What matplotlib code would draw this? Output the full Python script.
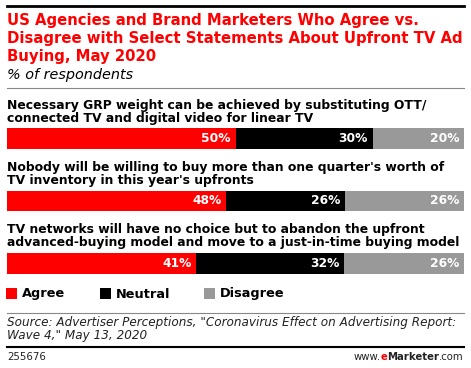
import matplotlib
matplotlib.use("Agg")
import matplotlib.pyplot as plt
from matplotlib.lines import Line2D
from matplotlib.patches import Rectangle
from matplotlib.text import Annotation

# ===================== 数据 =====================
title = ("US Agencies and Brand Marketers Who Agree vs.\n"
         "Disagree with Select Statements About Upfront TV Ad\n"
         "Buying, May 2020")
subtitle = "% of respondents"
statements = [
    "Necessary GRP weight can be achieved by substituting OTT/\nconnected TV and digital video for linear TV",
    "Nobody will be willing to buy more than one quarter's worth of\nTV inventory in this year's upfronts",
    "TV networks will have no choice but to abandon the upfront\nadvanced-buying model and move to a just-in-time buying model",
]
series = ["Agree", "Neutral", "Disagree"]
agree = [50, 48, 41]
neutral = [30, 26, 32]
disagree = [20, 26, 26]
source = ("Source: Advertiser Perceptions, \"Coronavirus Effect on Advertising Report:\n"
          "Wave 4,\" May 13, 2020")
chart_id = "255676"
colors = ["#ff0000", "#000000", "#999999"]
# ================================================

W, H = 471, 368
fig = plt.figure(figsize=(W / 100, H / 100), dpi=100)
plt.rcParams['font.family'] = ['DejaVu Sans']


def fx(x):
    return x / W


def fy(y):
    return 1 - y / H


def hline(y, lw, color):
    fig.add_artist(Line2D([fx(7), fx(464)], [fy(y), fy(y)], lw=lw, color=color,
                          transform=fig.transFigure))


# 顶部线和标题
hline(6, 2.0, "black")
fig.text(fx(7), fy(13), title, color="#ff0000", fontsize=10.75, fontweight="bold",
         va="top", ha="left", linespacing=1.26)
fig.text(fx(7), fy(68), subtitle, fontsize=10.4, style="italic", va="top", ha="left")
hline(88, 0.8, "#888888")

# 条形图（每行按总和归一化，铺满整行）
ax = fig.add_axes([fx(7), fy(274), fx(457), (274 - 128) / H])
n = len(statements)
ypos = list(range(n))
vals = [agree, neutral, disagree]
for i in range(n):
    tot = agree[i] + neutral[i] + disagree[i]
    left = 0
    for s in range(3):
        w = vals[s][i] / tot * 100
        ax.barh(ypos[i], w, left=left, height=0.33, color=colors[s], edgecolor="none")
        ax.text(left + w - 1.0, ypos[i], f"{vals[s][i]}%", color="white",
                fontsize=8.8, fontweight="bold", ha="right", va="center")
        left += w
ax.set_xlim(0, 100)
ax.set_ylim(n - 1 + 0.17, -0.17)
ax.axis("off")

# 每个条形上方的说明
label_tops = [99, 161, 223]
for t, lab in zip(label_tops, statements):
    fig.text(fx(7), fy(t), lab, fontsize=8.9, fontweight="bold", va="top", ha="left",
             linespacing=1.02)

# 图例
leg_x = [6, 100, 204]
for x, name, c in zip(leg_x, series, colors):
    fig.add_artist(Rectangle((fx(x), fy(299)), fx(11), 11 / H, color=c, lw=0,
                             transform=fig.transFigure))
    fig.text(fx(x + 16), fy(294), name, fontsize=9.3, fontweight="bold",
             va="center", ha="left")

# 来源与页脚
hline(312.5, 0.8, "#888888")
fig.text(fx(7), fy(316), source, fontsize=8.65, style="italic", va="top", ha="left",
         linespacing=1.05, color="#222222")
hline(347, 1.5, "black")
fig.text(fx(7), fy(357), chart_id, fontsize=7.3, va="center", ha="left", color="#222222")

# www.eMarketer.com，从右往左拼接
prev = fig.text(fx(464), fy(357), ".com", fontsize=7.3, va="center", ha="right",
                color="#222222")
for part, wt, c in [("Marketer", "bold", "#222222"), ("e", "bold", "#ff0000"),
                    ("www.", "normal", "#222222")]:
    prev = fig.add_artist(Annotation(part, xy=(0, 0.5), xycoords=prev,
                                     fontsize=7.3, fontweight=wt, color=c,
                                     va="center", ha="right"))

fig.savefig("out.png", dpi=100)
